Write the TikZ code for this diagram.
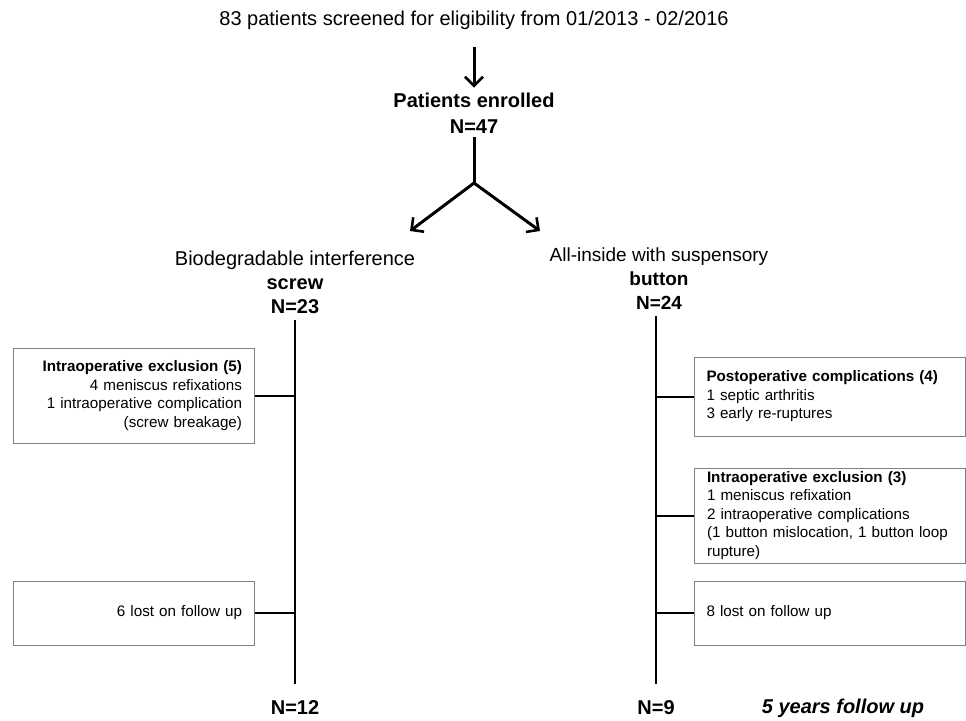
\documentclass[tikz,border=0pt]{standalone}
\usepackage{fontspec}
\setmainfont{Liberation Sans}
\usepackage{tikz}
\usetikzlibrary{arrows, arrows.meta}
\usetikzlibrary{positioning}

\begin{document}
\begin{tikzpicture}[x=1pt, y=-1pt,
	every node/.style={inner sep=0pt},
	title/.style={font=\fontsize{20}{24}\selectfont, align=center},
	count/.style={font=\fontsize{20}{26}\selectfont\bfseries, align=center},
	box/.style={draw=gray, line width=0.9pt, minimum height=#1, inner xsep=12.5pt, inner ysep=0pt, font=\fontsize{15.2}{18.5}\selectfont},
	flow/.style={line width=3pt, -{Straight Barb[length=9pt, width=18pt, line width=2.6pt]}},
	stem/.style={line width=2pt}]
		\useasboundingbox (0,0) rectangle (966,720);
		\node[title] (screen) at (474,20) {83 patients screened for eligibility from 01/2013 - 02/2016};
		\node[count] (enrol) at (474,113) {Patients enrolled\\N=47};
		\coordinate (split) at (474,183);
		\coordinate (ltip) at (410,231);
		\coordinate (rtip) at (540,231);
		\node[title] (larm) at (295,282) {Biodegradable interference\\\textbf{screw}\\\textbf{N=23}};
		\node[title, font=\fontsize{19}{24}\selectfont] (rarm) at (659,279) {All-inside with suspensory\\\textbf{button}\\\textbf{N=24}};
		\node[count] (lout) at (295,708) {N=12};
		\node[count] (rout) at (656,708) {N=9};
		\node[count, font=\fontsize{20}{24}\selectfont\bfseries\itshape] (span) at (843,708) {5 years follow up};
		
		\node[box=95pt, text width=216pt, align=right] (lexcl) at (134,395.5) {\textbf{Intraoperative exclusion (5)}\\4 meniscus refixations\\1 intraoperative complication\\(screw breakage)};
		\node[box=64pt, text width=216pt, align=right] (llost) at (134,613) {6 lost on follow up};
		\node[box=79pt, text width=246pt, align=left] (rcomp) at (829.5,396.5) {\textbf{Postoperative complications (4)}\\1 septic arthritis\\3 early re-ruptures};
		\node[box=95pt, text width=246pt, align=left] (rexcl) at (830,515.5) {\textbf{Intraoperative exclusion (3)}\\1 meniscus refixation\\2 intraoperative complications\\(1 button mislocation, 1 button loop\\rupture)};
		\node[box=64pt, text width=246pt, align=left] (rlost) at (829.5,613) {8 lost on follow up};
		
		\draw[flow, shorten <=17pt, shorten >=5pt] (screen) -- (enrol);
		\draw[line width=3pt, shorten <=4pt] (enrol) -- (split);
		\draw[flow] (split) -- (ltip);
		\draw[flow] (split) -- (rtip);
		\draw[stem, shorten <=6pt, shorten >=17pt] (larm) -- (lout);
		\draw[stem, shorten <=6pt, shorten >=17pt] (rarm.south -| rout) -- (rout);
		\foreach \b in {lexcl, llost}
		{
			\draw[stem] (\b.east) -- (\b.east -| lout);
		}
		\foreach \b in {rcomp, rexcl, rlost}
		{
			\draw[stem] (\b.west) -- (\b.west -| rout);
		}
\end{tikzpicture}
\end{document}
